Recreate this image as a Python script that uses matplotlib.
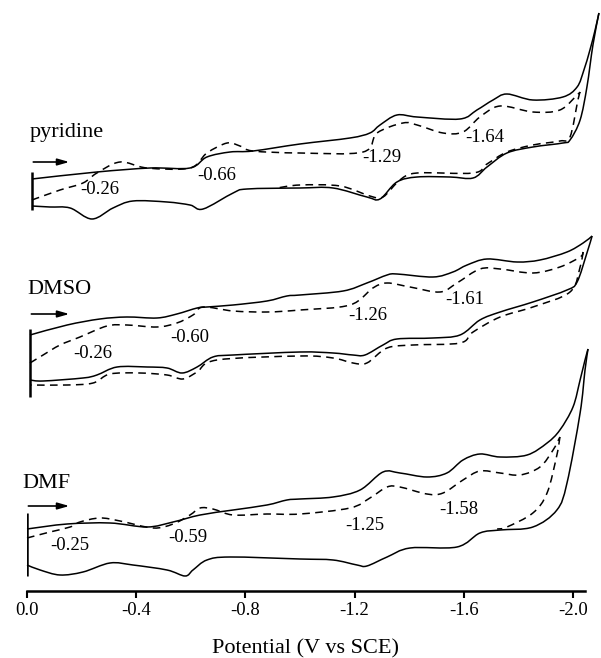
import matplotlib
matplotlib.use("Agg")
import matplotlib.pyplot as plt
from matplotlib.path import Path
from matplotlib.patches import PathPatch
import numpy as np

plt.rcParams['font.family'] = ['Liberation Serif', 'DejaVu Serif']

# ---------------- data: potential (V vs SCE), current (arb. units) ----------------
# pyridine
pyr_solid_fwd_V = [-0.018, -0.256, -0.451, -0.597, -0.659, -0.744, -0.828, -1.000, -1.183, -1.256, -1.293, -1.355,
                   -1.429, -1.586, -1.648, -1.707, -1.758, -1.853, -1.963, -2.015, -2.040, -2.062, -2.081, -2.095]
pyr_solid_fwd_I = [31, 38, 42, 42, 53, 58, 59, 66, 72, 77, 85, 95, 93, 91, 100, 110, 116, 110, 113, 123, 140, 160,
                   180, 197]
pyr_solid_rev_V = [-2.095, -2.073, -2.051, -2.026, -1.989, -1.963, -1.853, -1.758, -1.685, -1.634, -1.549, -1.429,
                   -1.355, -1.293, -1.245, -1.121, -1.000, -0.806, -0.755, -0.645, -0.597, -0.513, -0.388, -0.315,
                   -0.238, -0.158, -0.084, -0.018]
pyr_solid_rev_I = [197, 165, 123, 90, 70, 67, 63, 57, 43, 32, 33, 33, 28, 11, 13, 22, 22, 21, 17, 1, 5, 8, 9, 2,
                   -9, 2, 3, 4]
pyr_dash_fwd_V = [-0.018, -0.121, -0.205, -0.256, -0.341, -0.440, -0.597, -0.659, -0.733, -0.780, -0.828, -1.000,
                  -1.231, -1.282, -1.377, -1.429, -1.524, -1.597, -1.659, -1.733, -1.853, -1.952, -2.015, -2.026]
pyr_dash_fwd_I = [10, 20, 27, 37, 48, 42, 42, 57, 67, 64, 59, 57, 58, 77, 87, 85, 77, 78, 93, 104, 98, 100, 115, 118]
pyr_dash_rev_V = [-2.026, -2.018, -1.989, -1.952, -1.853, -1.758, -1.685, -1.634, -1.429, -1.366, -1.304, -1.256,
                  -1.147, -1.000, -0.916]
pyr_dash_rev_I = [118, 110, 73, 69, 65, 58, 46, 37, 37, 30, 13, 14, 24, 25, 22]

# DMSO
dmso_solid_fwd_V = [-0.011, -0.147, -0.267, -0.366, -0.476, -0.549, -0.623, -0.659, -0.755, -0.879, -0.952, -1.000,
                    -1.158, -1.245, -1.319, -1.355, -1.487, -1.560, -1.612, -1.685, -1.795, -1.879, -1.978, -2.037,
                    -2.070]
dmso_solid_fwd_I = [62, 72, 78, 80, 79, 83, 89, 90, 92, 96, 101, 102, 106, 114, 122, 123, 120, 125, 132, 138, 135,
                    137, 145, 154, 161]
dmso_solid_rev_V = [-2.070, -2.051, -2.015, -1.978, -1.853, -1.733, -1.659, -1.586, -1.487, -1.355, -1.304, -1.238,
                    -1.194, -1.121, -1.000, -0.755, -0.681, -0.623, -0.568, -0.513, -0.440, -0.330, -0.256, -0.205,
                    -0.059, -0.011]
dmso_solid_rev_I = [161, 144, 115, 107, 95, 85, 77, 62, 59, 58, 52, 42, 42, 44, 45, 42, 40, 30, 24, 29, 30, 30, 22,
                    19, 16, 17]
dmso_dash_fwd_V = [-0.011, -0.059, -0.121, -0.194, -0.293, -0.366, -0.476, -0.549, -0.608, -0.645, -0.755, -0.879,
                   -1.000, -1.183, -1.267, -1.319, -1.403, -1.513, -1.575, -1.659, -1.733, -1.853, -1.952, -2.026,
                   -2.037]
dmso_dash_fwd_I = [34, 42, 52, 60, 71, 72, 70, 74, 82, 90, 86, 85, 87, 92, 109, 114, 110, 105, 114, 128, 128, 124,
                   130, 140, 145]
dmso_dash_rev_V = [-2.037, -2.026, -1.989, -1.853, -1.733, -1.634, -1.586, -1.414, -1.319, -1.245, -1.194, -1.121,
                   -1.000, -0.696, -0.623, -0.571, -0.513, -0.414, -0.304, -0.242, -0.147, -0.011]
dmso_dash_rev_I = [145, 130, 105, 90, 80, 65, 54, 52, 49, 34, 34, 39, 41, 37, 25, 18, 22, 24, 23, 14, 12, 12]

# DMF
dmf_solid_fwd_V = [0.000, -0.147, -0.304, -0.440, -0.535, -0.634, -0.755, -0.879, -0.952, -1.000, -1.121, -1.220,
                   -1.304, -1.366, -1.465, -1.538, -1.597, -1.659, -1.733, -1.832, -1.905, -1.952, -2.000, -2.026,
                   -2.044, -2.055]
dmf_solid_fwd_I = [47, 52, 53, 49, 54, 61, 66, 71, 76, 77, 79, 86, 104, 103, 99, 103, 116, 122, 119, 121, 133, 146,
                   169, 196, 216, 227]
dmf_solid_rev_V = [-2.055, -2.044, -2.026, -1.978, -1.941, -1.853, -1.733, -1.659, -1.575, -1.403, -1.319, -1.245,
                   -1.209, -1.121, -1.000, -0.744, -0.659, -0.608, -0.579, -0.513, -0.388, -0.304, -0.205, -0.121,
                   -0.048, 0.000]
dmf_solid_rev_I = [227, 206, 163, 93, 66, 49, 46, 43, 29, 28, 19, 10, 11, 16, 17, 19, 16, 6, 0, 6, 11, 13, 4, 1, 6, 11]
dmf_dash_fwd_V = [0.000, -0.084, -0.158, -0.194, -0.267, -0.341, -0.462, -0.535, -0.597, -0.634, -0.681, -0.755,
                  -0.879, -1.000, -1.183, -1.256, -1.319, -1.366, -1.465, -1.524, -1.597, -1.659, -1.733, -1.806,
                  -1.879, -1.927, -1.952]
dmf_dash_fwd_I = [38, 44, 49, 54, 58, 55, 48, 52, 61, 68, 67, 61, 62, 62, 68, 78, 89, 89, 82, 83, 96, 105, 103, 101,
                  109, 126, 139]
dmf_dash_rev_V = [-1.952, -1.941, -1.905, -1.853, -1.758, -1.722]
dmf_dash_rev_I = [139, 121, 83, 63, 49, 47]

solvents = ["pyridine", "DMSO", "DMF"]
start_V = [-0.018, -0.011, 0.000]
bar_I = [(0, 38), (0, 68), (0, 63)]
peak_labels = [["-0.26", "-0.66", "-1.29", "-1.64"],
               ["-0.26", "-0.60", "-1.26", "-1.61"],
               ["-0.25", "-0.59", "-1.25", "-1.58"]]
tick_values = [0.0, -0.4, -0.8, -1.2, -1.6, -2.0]
tick_labels = ["0.0", "-0.4", "-0.8", "-1.2", "-1.6", "-2.0"]

# ---------------- layout ----------------
offsets = [381, 194, 15]
label_pos = [[(-0.267, 21), (-0.696, 35), (-1.300, 53), (-1.678, 73)],
             [(-0.242, 44), (-0.597, 60), (-1.249, 82), (-1.604, 97)],
             [(-0.158, 31), (-0.590, 39), (-1.238, 50), (-1.582, 67)]]
name_pos = [(-0.011, 77), (0.0, 107), (0.018, 93)]
arrow_y = [48, 83, 70]


def smooth_path(xs, ys):
    """Bezier path passing through every data point (Catmull-Rom tangents)."""
    P = np.column_stack([xs, ys]).astype(float)
    n = len(P)
    verts = [P[0]]
    codes = [Path.MOVETO]
    for i in range(n - 1):
        p0 = P[i - 1] if i > 0 else P[i]
        p1, p2 = P[i], P[i + 1]
        p3 = P[i + 2] if i + 2 < n else P[i + 1]
        c1 = p1 + (p2 - p0) / 6.0
        c2 = p2 - (p3 - p1) / 6.0
        verts += [c1, c2, p2]
        codes += [Path.CURVE4] * 3
    return Path(verts, codes)


fig = plt.figure(figsize=(6.01, 6.58), dpi=100)
ax = fig.add_axes([27 / 601, 67 / 658, 558 / 601, 591 / 658])
ax.set_xlim(0, -558 / 273)
ax.set_ylim(0, 591)

curves = [
    [(pyr_solid_fwd_V, pyr_solid_fwd_I, '-'), (pyr_solid_rev_V, pyr_solid_rev_I, '-'),
     (pyr_dash_fwd_V, pyr_dash_fwd_I, '--'), (pyr_dash_rev_V, pyr_dash_rev_I, '--')],
    [(dmso_solid_fwd_V, dmso_solid_fwd_I, '-'), (dmso_solid_rev_V, dmso_solid_rev_I, '-'),
     (dmso_dash_fwd_V, dmso_dash_fwd_I, '--'), (dmso_dash_rev_V, dmso_dash_rev_I, '--')],
    [(dmf_solid_fwd_V, dmf_solid_fwd_I, '-'), (dmf_solid_rev_V, dmf_solid_rev_I, '-'),
     (dmf_dash_fwd_V, dmf_dash_fwd_I, '--'), (dmf_dash_rev_V, dmf_dash_rev_I, '--')],
]

for k in range(3):
    off = offsets[k]
    for V, I, ls in curves[k]:
        y = np.array(I, dtype=float) + off
        patch = PathPatch(smooth_path(V, y), facecolor='none', edgecolor='black', lw=1.1, clip_on=False,
                          joinstyle='round')
        if ls == '--':
            patch.set_linestyle((0, (5, 3.5)))
        ax.add_patch(patch)
    ax.plot([start_V[k], start_V[k]], [bar_I[k][0] + off, bar_I[k][1] + off], color='black', lw=1.8,
            solid_capstyle='butt')
    for txt, (xv, iv) in zip(peak_labels[k], label_pos[k]):
        ax.text(xv, iv + off, txt, ha='center', va='center', fontsize=13.5)
    ax.text(name_pos[k][0], name_pos[k][1] + off, solvents[k], ha='left', va='center', fontsize=16)
    ax.annotate('', xy=(-0.155, arrow_y[k] + off), xytext=(-0.005 + start_V[k], arrow_y[k] + off),
                arrowprops=dict(arrowstyle='-|>,head_length=0.7,head_width=0.2', color='black', lw=1.2,
                                shrinkA=0, shrinkB=0))

for s in ['top', 'right', 'left']:
    ax.spines[s].set_visible(False)
ax.spines['bottom'].set_linewidth(1.8)
ax.set_yticks([])
ax.set_xticks(tick_values)
ax.set_xticklabels(tick_labels, fontsize=13.5)
ax.tick_params(axis='x', length=5, width=1.5, pad=3)
fig.text(306 / 601, 1 - 649 / 658, "Potential (V vs SCE)", ha='center', va='center', fontsize=16)

fig.savefig("out.png", dpi=100)
